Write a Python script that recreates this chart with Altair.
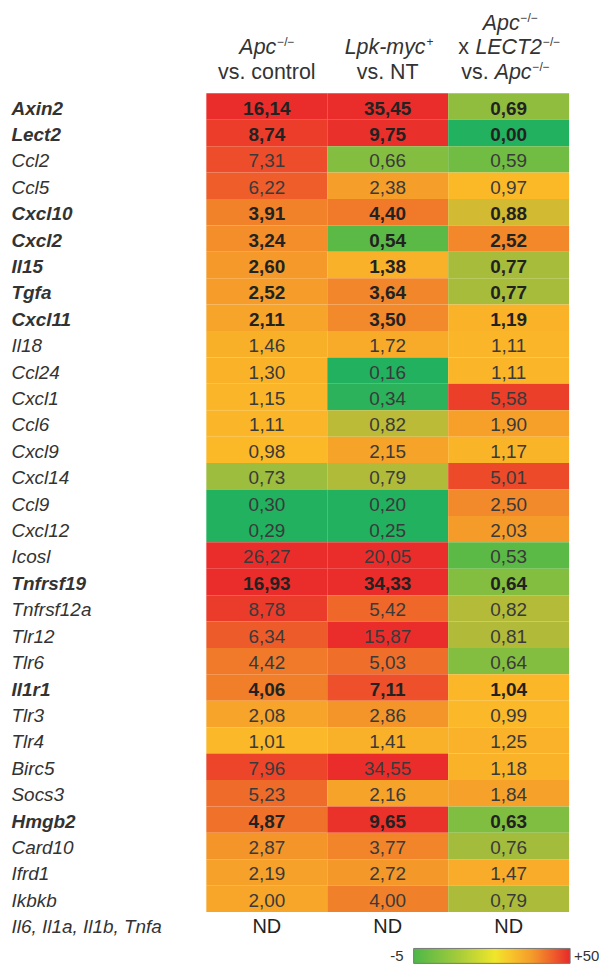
import json
import pandas as pd
import altair as alt

# ---------------- data ----------------
genes = ["Axin2", "Lect2", "Ccl2", "Ccl5", "Cxcl10", "Cxcl2", "Il15", "Tgfa", "Cxcl11",
         "Il18", "Ccl24", "Cxcl1", "Ccl6", "Cxcl9", "Cxcl14", "Ccl9", "Cxcl12",
         "Icosl", "Tnfrsf19", "Tnfrsf12a", "Tlr12", "Tlr6", "Il1r1", "Tlr3", "Tlr4",
         "Birc5", "Socs3", "Hmgb2", "Card10", "Ifrd1", "Ikbkb"]
bold_genes = ["Axin2", "Lect2", "Cxcl10", "Cxcl2", "Il15", "Tgfa", "Cxcl11",
              "Tnfrsf19", "Il1r1", "Hmgb2"]
nd_genes = "Il6, Il1a, Il1b, Tnfa"
comparisons = ["c1", "c2", "c3"]

apc_vs_control = [16.14, 8.74, 7.31, 6.22, 3.91, 3.24, 2.60, 2.52, 2.11,
                  1.46, 1.30, 1.15, 1.11, 0.98, 0.73, 0.30, 0.29,
                  26.27, 16.93, 8.78, 6.34, 4.42, 4.06, 2.08, 1.01,
                  7.96, 5.23, 4.87, 2.87, 2.19, 2.00]
lpk_vs_nt = [35.45, 9.75, 0.66, 2.38, 4.40, 0.54, 1.38, 3.64, 3.50,
             1.72, 0.16, 0.34, 0.82, 2.15, 0.79, 0.20, 0.25,
             20.05, 34.33, 5.42, 15.87, 5.03, 7.11, 2.86, 1.41,
             34.55, 2.16, 9.65, 3.77, 2.72, 4.00]
lect2_vs_apc = [0.69, 0.00, 0.59, 0.97, 0.88, 2.52, 0.77, 0.77, 1.19,
                1.11, 1.11, 5.58, 1.90, 1.17, 5.01, 2.50, 2.03,
                0.53, 0.64, 0.82, 0.81, 0.64, 1.04, 0.99, 1.25,
                1.18, 1.84, 0.63, 0.76, 1.47, 0.79]
nd_values = ["ND", "ND", "ND"]
legend_labels = ["-5", "+50"]

# header text pieces: (column, line, text, kind)
header_pieces = [
    ("c1", 1, "Apc", "main_it"), ("c1", 1, "\u2212/\u2212", "sup"), ("c1", 2, "vs. control", "main"),
    ("c2", 1, "Lpk-myc", "main_it"), ("c2", 1, "+", "sup"), ("c2", 2, "vs. NT", "main"),
    ("c3", 0, "Apc", "main_it"), ("c3", 0, "\u2212/\u2212", "sup"),
    ("c3", 1, "x", "main"), ("c3", 1, "LECT2", "main_it"), ("c3", 1, "\u2212/\u2212", "sup"),
    ("c3", 2, "vs.", "main"), ("c3", 2, "Apc", "main_it"), ("c3", 2, "\u2212/\u2212", "sup"),
]
# horizontal placement of each piece (align, dx) - styling only
header_place = [
    ("right", 9.5), ("left", 10.5), ("center", 0),
    ("right", 38), ("left", 39), ("center", 0),
    ("right", 11), ("left", 12),
    ("left", -50.5), ("right", 33.5), ("left", 34.5),
    ("left", -47.5), ("right", 23), ("left", 24),
]

# ---------------- tables ----------------
rows = []
for comp, vals in zip(comparisons, [apc_vs_control, lpk_vs_nt, lect2_vs_apc]):
    for g, v in zip(genes, vals):
        rows.append({"gene": g, "comp": comp, "value": v,
                     "label": f"{v:.2f}".replace(".", ","),
                     "bold": g in bold_genes})
df = pd.DataFrame(rows)
nd_df = pd.DataFrame({"gene": [nd_genes] * 3, "comp": comparisons, "label": nd_values})
row_order = genes + [nd_genes]

FONT = "Liberation Sans"
palette = ["#22b15f", "#5bb946", "#84be41", "#b4bb39", "#fbb928",
           "#f6a22a", "#f2872a", "#ef6a2a", "#ed4a2a", "#ea2d2a"]
dom_12 = [0.3, 0.54, 0.66, 0.8, 0.97, 2.2, 3.6, 5.3, 7.5, 10]
dom_3 = [0.0, 0.53, 0.64, 0.82, 0.96, 1.85, 2.55, 3.8, 5.0, 6.5]

x_enc = alt.X("comp:N", scale=alt.Scale(domain=comparisons, paddingInner=0, paddingOuter=0),
              axis=None)
bold_test = "indexof(" + json.dumps(bold_genes) + ", datum.value) >= 0"
y_axis = alt.Axis(title=None, ticks=False, domain=False, labelFont=FONT, labelFontSize=19,
                  labelFontStyle="italic", labelColor="#333333", labelAlign="left",
                  labelBaseline="middle", labelPadding=196, labelLimit=400, labelOffset=2,
                  labelFontWeight={"condition": {"test": bold_test, "value": "bold"},
                                   "value": "normal"})
y_enc = alt.Y("gene:N", scale=alt.Scale(domain=row_order, paddingInner=0, paddingOuter=0),
              axis=y_axis)


def cells(comp, dom):
    return (alt.Chart(df).transform_filter(alt.datum.comp == comp)
            .mark_rect(strokeWidth=0)
            .encode(x=x_enc, y=y_enc,
                    color=alt.Color("value:Q", legend=None,
                                    scale=alt.Scale(domain=dom, range=palette,
                                                    interpolate="rgb", clamp=True))))


layers = [cells("c1", dom_12), cells("c2", dom_12), cells("c3", dom_3)]

layers.append(alt.Chart(df).transform_filter("!datum.bold")
              .mark_text(font=FONT, fontSize=19, color="#3a3a3a", baseline="middle", dy=2)
              .encode(x=x_enc, y=y_enc, text="label:N"))
layers.append(alt.Chart(df).transform_filter("datum.bold")
              .mark_text(font=FONT, fontSize=19, fontWeight="bold", color="#222222",
                         baseline="middle", dy=2)
              .encode(x=x_enc, y=y_enc, text="label:N"))
layers.append(alt.Chart(nd_df)
              .mark_text(font=FONT, fontSize=20, color="#222222", baseline="middle", dy=2)
              .encode(x=x_enc, y=y_enc, text="label:N"))

line_y = {0: -64, 1: -39, 2: -14}
for (comp, line, text, kind), (align, dx) in zip(header_pieces, header_place):
    hdf = pd.DataFrame({"comp": [comp], "t": [text]})
    if kind == "sup":
        mk = alt.Chart(hdf).mark_text(font=FONT, fontSize=12, color="#333333", align=align,
                                      dx=dx, baseline="alphabetic")
        yv = line_y[line] - 8
    else:
        mk = alt.Chart(hdf).mark_text(font=FONT, fontSize=21.5, color="#333333", align=align,
                                      dx=dx, baseline="alphabetic",
                                      fontStyle="italic" if kind == "main_it" else "normal")
        yv = line_y[line]
    layers.append(mk.encode(x=x_enc, y=alt.value(yv), text="t:N"))

# colour-key gradient
one = pd.DataFrame({"k": [0]})
grad = alt.Gradient(gradient="linear", x1=0, x2=1, y1=0, y2=0,
                    stops=[alt.GradientStop(offset=0, color="#4db748"),
                           alt.GradientStop(offset=0.28, color="#a3cb3b"),
                           alt.GradientStop(offset=0.52, color="#f0e62a"),
                           alt.GradientStop(offset=0.62, color="#f8c52a"),
                           alt.GradientStop(offset=0.76, color="#f49a2a"),
                           alt.GradientStop(offset=0.9, color="#ee5a2a"),
                           alt.GradientStop(offset=1, color="#e8292a")])
layers.append(alt.Chart(one).mark_rect(color=grad, stroke="#777777", strokeWidth=1)
              .encode(x=alt.value(208), x2=alt.value(365), y=alt.value(858), y2=alt.value(873)))
layers.append(alt.Chart(one).mark_text(font=FONT, fontSize=15, color="#333333", align="right",
                                       baseline="middle")
              .encode(x=alt.value(198), y=alt.value(866), text=alt.value(legend_labels[0])))
layers.append(alt.Chart(one).mark_text(font=FONT, fontSize=15, color="#333333", align="left",
                                       baseline="middle")
              .encode(x=alt.value(369), y=alt.value(866), text=alt.value(legend_labels[1])))

chart = (alt.layer(*layers)
         .resolve_scale(color="independent")
         .properties(width=364, height=848,
                     autosize=alt.AutoSizeParams(type="none"),
                     padding={"left": 199, "top": 84, "right": 30, "bottom": 26})
         .configure(background="white", view=alt.ViewConfig(stroke=None)))

chart.save("out.html", embed_options={"renderer": "svg", "actions": False})
